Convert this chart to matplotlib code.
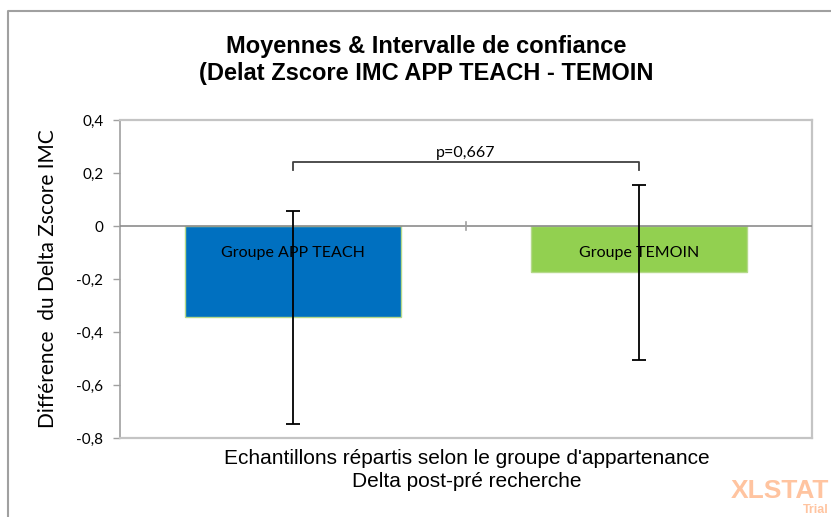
import matplotlib
matplotlib.use("Agg")
import matplotlib.pyplot as plt
from matplotlib.lines import Line2D

# Data
groups = ["Groupe APP TEACH", "Groupe TEMOIN"]
means = [-0.345, -0.175]
ci_low = [-0.747, -0.505]
ci_high = [0.057, 0.155]
bar_colors = ["#0070C0", "#92D050"]
p_text = "p=0,667"
bracket_y = 0.242
bracket_drop = 0.031
yticks = [0.4, 0.2, 0, -0.2, -0.4, -0.6, -0.8]
ytick_labels = ["0,4", "0,2", "0", "-0,2", "-0,4", "-0,6", "-0,8"]

W, H = 831, 517
fig = plt.figure(figsize=(W / 100, H / 100), dpi=100)
ax = fig.add_axes([120 / W, 1 - 438 / H, (812 - 120) / W, (438 - 120) / H])

x = list(range(len(groups)))
ax.bar(x, means, width=0.625, color=bar_colors, edgecolor="#b5d98a", linewidth=1.0, zorder=2)
err_lo = [m - l for m, l in zip(means, ci_low)]
err_hi = [h - m for m, h in zip(means, ci_high)]
ax.errorbar(x, means, yerr=[err_lo, err_hi], fmt="none", ecolor="black",
            elinewidth=1.3, capsize=5, capthick=1.3, zorder=4)

for xi, g in zip(x, groups):
    ax.text(xi, -0.1, g, ha="center", va="center", fontsize=11.5,
            family=["Lato", "DejaVu Sans"], zorder=5)

# zero line and category ticks
ax.axhline(0, color="#8c8c8c", lw=1.2, zorder=3)
ax.plot([0.5, 0.5], [-0.014, 0.014], color="#a0a0a0", lw=1.2, zorder=3, clip_on=False)

# bracket
ax.plot([x[0], x[0], x[1], x[1]],
        [bracket_y - bracket_drop, bracket_y, bracket_y, bracket_y - bracket_drop],
        color="#404040", lw=1.3, zorder=4)
ax.text(0.5 * (x[0] + x[1]), bracket_y + 0.008, p_text, ha="center", va="bottom",
        fontsize=11.5, family=["Lato", "DejaVu Sans"])

ax.set_xlim(-0.5, 1.5)
ax.set_ylim(-0.8, 0.4)
ax.set_yticks(yticks)
ax.set_yticklabels(ytick_labels, family=["Lato", "DejaVu Sans"], fontsize=11)
ax.set_xticks([])
ax.tick_params(axis="y", direction="out", length=5, color="#a0a0a0", width=1, pad=7)
for s in ["top", "right", "bottom"]:
    ax.spines[s].set_color("#c4c4c4")
    ax.spines[s].set_linewidth(1.6)
ax.spines["left"].set_color("#a0a0a0")
ax.spines["left"].set_linewidth(1.2)

ax.set_ylabel("Différence  du Delta Zscore IMC", fontsize=15,
              family=["Lato", "DejaVu Sans"])
ax.yaxis.set_label_coords((58 - 120) / (812 - 120), 0.5)

fig.text(426 / W, 1 - 60 / H,
         "Moyennes & Intervalle de confiance\n(Delat Zscore IMC APP TEACH - TEMOIN",
         ha="center", va="center", fontsize=17, fontweight="bold",
         family="Liberation Sans", linespacing=1.25)

fig.text(467 / W, 1 - 470 / H,
         "Echantillons répartis selon le groupe d'appartenance\nDelta post-pré recherche",
         ha="center", va="center", fontsize=15, family="Liberation Sans", linespacing=1.22)

# outer chart border
fig.add_artist(Line2D([8 / W, 8 / W, 1.0], [0, 1 - 11 / H, 1 - 11 / H],
                      transform=fig.transFigure, color="#a0a0a0", lw=1.5))

# watermark
fig.text(829 / W, 1 - 491 / H, "XLSTAT", ha="right", va="center", fontsize=19,
         fontweight="bold", color="#FFC4A0", family="Liberation Sans")
fig.text(829 / W, 1 - 510 / H, "Trial", ha="right", va="center", fontsize=9,
         fontweight="bold", color="#FFC4A0", family="Liberation Sans")

fig.savefig("out.png", dpi=100)
